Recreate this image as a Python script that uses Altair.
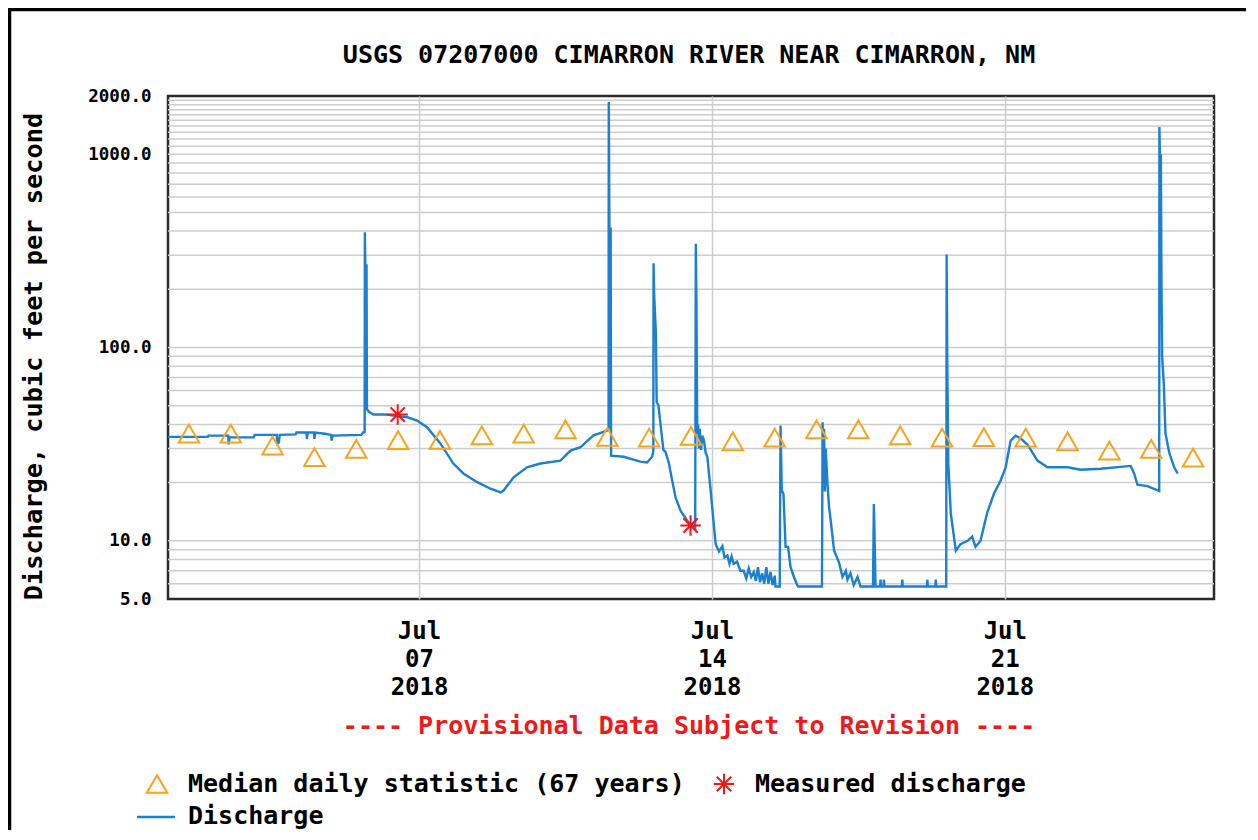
import altair as alt
import pandas as pd

START = pd.Timestamp("2018-07-01 00:00:00")
MONO = "DejaVu Sans Mono"

# ---- data ----
# discharge series: (days after 2018-07-01 00:00, cubic feet per second)
discharge_points = [
    (0.00, 34.5), (0.95, 34.5), (0.97, 35.0), (1.44, 35.0), (1.45, 31.5), (1.47, 34.3),
    (2.05, 34.3), (2.07, 35.3), (2.60, 35.3), (2.61, 31.8), (2.65, 32.2), (2.67, 35.3),
    (3.05, 35.5), (3.07, 36.3), (3.31, 36.3), (3.32, 33.7), (3.34, 36.3), (3.49, 36.3),
    (3.50, 33.7), (3.52, 36.3), (3.75, 35.8), (3.90, 35.3), (3.91, 33.0), (3.93, 35.0),
    (4.62, 35.3), (4.66, 36.3), (4.70, 36.5), (4.705, 395), (4.715, 266), (4.745, 266),
    (4.755, 48), (4.80, 46.5), (4.91, 45.0), (5.20, 45.0), (5.72, 43.6), (5.95, 41.9),
    (6.19, 38.7), (6.51, 31.9), (6.82, 25.1), (7.06, 22.3), (7.39, 20.1), (7.71, 18.6),
    (7.95, 17.8), (8.02, 18.2), (8.26, 21.3), (8.58, 24.0), (8.90, 25.1), (9.38, 26.0),
    (9.62, 29.3), (9.86, 30.5), (10.17, 35.1), (10.50, 37.2), (10.53, 38.0),
    (10.535, 1862), (10.55, 412), (10.58, 412), (10.59, 27.6), (10.89, 27.2),
    (11.29, 25.7), (11.45, 25.4), (11.57, 27.2), (11.60, 29.0), (11.605, 273),
    (11.62, 186), (11.66, 120), (11.68, 52), (11.72, 50.5), (11.84, 29.5), (11.89, 28.9),
    (11.97, 25.3), (12.05, 20.5), (12.13, 16.8), (12.25, 14.3), (12.41, 12.7),
    (12.49, 12.0), (12.60, 11.6), (12.615, 344), (12.63, 168), (12.65, 35.8),
    (12.67, 40), (12.69, 30), (12.71, 38), (12.74, 29.5), (12.77, 35), (12.81, 32.9),
    (12.85, 28.6), (12.89, 27.2), (12.97, 18.2), (13.05, 11.8), (13.09, 9.6),
    (13.17, 8.8), (13.25, 9.4), (13.30, 8.2), (13.37, 8.4), (13.42, 7.6), (13.47, 8.3),
    (13.52, 7.6), (13.60, 7.8), (13.68, 7.0), (13.76, 7.0), (13.82, 6.4), (13.88, 7.2),
    (13.94, 6.5), (14.00, 6.9), (14.05, 6.2), (14.10, 7.3), (14.15, 6.1), (14.20, 6.8),
    (14.25, 6.0), (14.30, 7.3), (14.35, 6.0), (14.40, 6.9), (14.45, 5.9), (14.50, 6.6),
    (14.52, 5.8), (14.62, 5.8), (14.64, 39.5), (14.67, 18.2), (14.71, 17.5),
    (14.76, 9.3), (14.82, 9.3), (14.88, 7.3), (14.96, 6.5), (15.04, 5.9), (15.06, 5.8),
    (15.63, 5.8), (15.645, 41), (15.66, 25), (15.68, 38), (15.70, 18), (15.72, 30),
    (15.76, 20), (15.80, 14.9), (15.84, 12.7), (15.92, 8.9), (15.96, 8.5), (16.04, 7.7),
    (16.12, 6.5), (16.20, 7.0), (16.24, 6.3), (16.31, 6.8), (16.39, 5.9), (16.48, 6.5),
    (16.55, 5.8), (16.85, 5.8), (16.87, 15.5), (16.89, 10.0), (16.91, 5.8), (17.02, 5.8),
    (17.03, 6.3), (17.04, 5.8), (17.10, 5.8), (17.11, 6.3), (17.12, 5.8), (17.54, 5.8),
    (17.55, 6.3), (17.56, 5.8), (18.14, 5.8), (18.15, 6.3), (18.16, 5.8), (18.34, 5.8),
    (18.35, 6.3), (18.36, 5.8), (18.60, 5.8), (18.61, 303), (18.625, 85.7), (18.65, 25),
    (18.71, 13.8), (18.83, 8.9), (18.94, 9.6), (19.11, 10.0), (19.22, 10.5), (19.30, 9.3),
    (19.42, 10.0), (19.58, 14.0), (19.74, 17.5), (19.90, 20.5), (20.02, 24.0),
    (20.14, 33.0), (20.26, 35.0), (20.38, 33.8), (20.54, 31.5), (20.78, 26.0),
    (21.02, 24.0), (21.50, 24.0), (21.81, 23.3), (22.29, 23.6), (23.01, 24.4),
    (23.09, 22.3), (23.17, 19.5), (23.41, 19.2), (23.69, 18.1), (23.695, 1382),
    (23.705, 1047), (23.72, 400), (23.73, 1000), (23.745, 205), (23.76, 90),
    (23.80, 65), (23.84, 36), (23.93, 28.6), (24.05, 24.0), (24.13, 22.3),
]

# median daily statistic (67 years), plotted at noon of each day Jul 1 .. Jul 25
median_dates = [f"2018-07-{d:02d}T12:00:00" for d in range(1, 26)]
median_cfs = [35.8, 35.8, 31.1, 27.1, 29.9, 33.2, 33.3, 35.1, 35.8, 37.7, 34.5, 34.2,
              34.9, 32.7, 34.2, 37.7, 37.7, 35.1, 34.2, 34.4, 34.2, 32.7, 29.3, 29.9, 26.9]

# measured discharge
measured_times = ["2018-07-06T11:45:00", "2018-07-13T11:45:00"]
measured_cfs = [45.0, 12.0]

y_tick_values = [5, 10, 100, 1000, 2000]
y_grid_values = [6, 7, 8, 9, 10, 20, 30, 40, 50, 60, 70, 80, 90, 100,
                 200, 300, 400, 500, 600, 700, 800, 900, 1000,
                 1100, 1200, 1300, 1400, 1500, 1600, 1700, 1800, 1900]
x_tick_dates = [(2018, 7, 7), (2018, 7, 14), (2018, 7, 21)]

title_text = "USGS 07207000 CIMARRON RIVER NEAR CIMARRON, NM"
note_text = "---- Provisional Data Subject to Revision ----"
legend_median = "Median daily statistic (67 years)"
legend_measured = "Measured discharge"
legend_discharge = "Discharge"

# ---- tables ----
q_df = pd.DataFrame({
    "time": START + pd.to_timedelta([p[0] for p in discharge_points], unit="D"),
    "cfs": [p[1] for p in discharge_points],
})
med_df = pd.DataFrame({"time": pd.to_datetime(median_dates), "cfs": median_cfs})
meas_df = pd.DataFrame({"time": pd.to_datetime(measured_times), "cfs": measured_cfs})
grid_df = pd.DataFrame({"cfs": y_grid_values})
one = pd.DataFrame({"k": [0]})

BLUE = "#1b7fd2"
ORANGE = "#f7a31c"
RED = "#f01818"
GRID = "#cdcdcd"
FS = 25

x_scale = alt.Scale(domain=[alt.DateTime(year=2018, month=7, date=1),
                            alt.DateTime(year=2018, month=7, date=26)])
y_scale = alt.Scale(type="log", domain=[5, 2000], nice=False)

x_axis = alt.Axis(
    values=[alt.DateTime(year=y, month=m, date=d) for (y, m, d) in x_tick_dates],
    labelExpr="[timeFormat(datum.value, '%b'), timeFormat(datum.value, '%d'), timeFormat(datum.value, '%Y')]",
    grid=True, gridColor=GRID, gridWidth=1.5, ticks=False, tickSize=0, domain=False,
    labelFont=MONO, labelFontSize=24, labelFontWeight="bold", labelColor="black",
    labelLineHeight=28, labelBaseline="top", labelPadding=20, labelFlush=False,
    labelOverlap=False, title=None,
)
y_axis = alt.Axis(
    values=y_tick_values, format=".1f", grid=False, ticks=False, tickSize=0, domain=False,
    labelFont=MONO, labelFontWeight="bold", labelFontSize=17.5, labelColor="black",
    labelPadding=17, labelFlush=False, labelOverlap=False,
    title="Discharge, cubic feet per second", titleFont=MONO, titleFontSize=25.3,
    titleFontWeight="bold", titleColor="black", titleAngle=270, titleX=-135, titleY=260,
    titleAlign="center", titleBaseline="middle",
)

X = alt.X("time:T", scale=x_scale, axis=x_axis)
Y = alt.Y("cfs:Q", scale=y_scale, axis=y_axis)

grid = alt.Chart(grid_df).mark_rule(color=GRID, strokeWidth=1.5).encode(
    y=alt.Y("cfs:Q", scale=y_scale, axis=y_axis))

line = alt.Chart(q_df).mark_line(color=BLUE, strokeWidth=2.4, interpolate="linear").encode(x=X, y=Y)

medians = alt.Chart(med_df).mark_point(
    shape="triangle-up", size=420, filled=False, color=ORANGE, strokeWidth=2, opacity=1
).encode(x=X, y=Y)

ASTERISK = "M-1,0L1,0M0,-1L0,1M-0.7,-0.7L0.7,0.7M-0.7,0.7L0.7,-0.7"
measured = alt.Chart(meas_df).mark_point(
    shape=ASTERISK, size=420, filled=False, color=RED, strokeWidth=2, opacity=1
).encode(x=X, y=Y)


def label(text, x, y, align="center", color="black", size=FS, weight="bold"):
    return alt.Chart(one).mark_text(
        font=MONO, fontSize=size, fontWeight=weight, color=color, align=align, baseline="middle"
    ).encode(x=alt.value(x), y=alt.value(y), text=alt.value(text))


title = label(title_text, 521, -41)
note = label(note_text, 521, 630, color=RED)
leg_tri = alt.Chart(one).mark_point(
    shape="triangle-up", size=420, filled=False, color=ORANGE, strokeWidth=2, opacity=1
).encode(x=alt.value(-11), y=alt.value(688))
leg_tri_txt = label(legend_median, 20, 688, align="left")
leg_ast = alt.Chart(one).mark_point(
    shape=ASTERISK, size=420, filled=False, color=RED, strokeWidth=2, opacity=1
).encode(x=alt.value(556), y=alt.value(688))
leg_ast_txt = label(legend_measured, 587, 688, align="left")
leg_line = alt.Chart(one).mark_rule(color=BLUE, strokeWidth=2.4).encode(
    x=alt.value(-31), x2=alt.value(7), y=alt.value(721))
leg_line_txt = label(legend_discharge, 20, 720, align="left")

border_top = alt.Chart(one).mark_rule(color="black", strokeWidth=3.5).encode(
    x=alt.value(-160), x2=alt.value(1100), y=alt.value(-86.5))
border_left = alt.Chart(one).mark_rule(color="black", strokeWidth=3.5).encode(
    x=alt.value(-158.5), y=alt.value(-88), y2=alt.value(800))

chart = alt.layer(
    grid, line, medians, measured, title, note,
    leg_tri, leg_tri_txt, leg_ast, leg_ast_txt, leg_line, leg_line_txt,
    border_top, border_left,
).properties(
    width=1046, height=503,
    background="white",
    autosize=alt.AutoSizeParams(type="none"),
    padding={"left": 160, "top": 88, "right": 32, "bottom": 231},
).configure_view(
    stroke="#2a2a2a", strokeWidth=2.5
)

chart.save("out.html", embed_options={"renderer": "svg", "actions": False})
